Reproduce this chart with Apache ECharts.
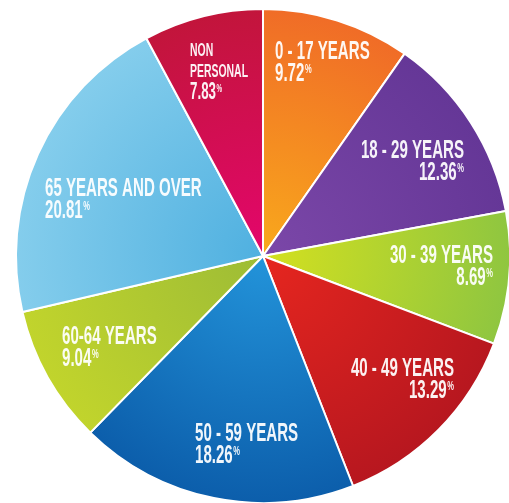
<!DOCTYPE html>
<html>
<head>
<meta charset="utf-8">
<style>
  html, body { margin: 0; padding: 0; background: #ffffff; }
  #chart { width: 509px; height: 503px; }
</style>
<script src="https://cdn.jsdelivr.net/npm/echarts@6/dist/echarts.min.js"></script>
</head>
<body>
<div id="chart"></div>
<script>
// Age groups, clockwise from 12 o'clock
const categories = ['0 - 17 YEARS', '18 - 29 YEARS', '30 - 39 YEARS', '40 - 49 YEARS',
  '50 - 59 YEARS', '60-64 YEARS', '65 YEARS AND OVER', 'NON\nPERSONAL'];
// Share of the total, in percent
const shares = [9.72, 12.36, 8.69, 13.29, 18.26, 9.04, 20.81, 7.83];

// Slice colours: [near the centre, at the rim]
const sliceColors = [
  ['#f9a91c', '#f06c27'],
  ['#7b47a8', '#653797'],
  ['#d4e01f', '#8fc640'],
  ['#e6261f', '#b7171f'],
  ['#2394da', '#0c5eab'],
  ['#9dbc36', '#c1d42c'],
  ['#4fb0e0', '#84cdec'],
  ['#e4066c', '#c2153b']
];

// Label anchor per slice: x, y (top of the text block), horizontal alignment
const labelSpots = [
  [275, 41, 'left'],
  [464, 140, 'right'],
  [493, 245, 'right'],
  [454, 358, 'right'],
  [195, 423, 'left'],
  [62, 326, 'left'],
  [45, 178, 'left'],
  [190, 41, 'left']
];

const CX = 263, CY = 256, R = 247;

const font = '"Liberation Sans", Arial, sans-serif';
const textColor = 'rgba(255,255,255,0.94)';
// horizontal squeeze giving the tall, narrow poster lettering
const SQUEEZE = 0.58;

const chart = echarts.init(document.getElementById('chart'), null, { renderer: 'canvas' });

const data = categories.map((name, i) => ({
  name: name,
  value: shares[i],
  itemStyle: {
    color: {
      type: 'radial', x: CX, y: CY, r: R, global: true,
      colorStops: [
        { offset: 0, color: sliceColors[i][0] },
        { offset: 1, color: sliceColors[i][1] }
      ]
    }
  }
}));

const richStyles = {
  t: { font: 'bold 26px ' + font, lineHeight: 22, fill: textColor },
  v: { font: 'bold 26px ' + font, lineHeight: 22, fill: textColor },
  p: { font: 'bold 13px ' + font, lineHeight: 22, fill: textColor, padding: [0, 0, 9, 1] },
  ts: { font: 'bold 18px ' + font, lineHeight: 21, fill: textColor },
  vs: { font: 'bold 23px ' + font, lineHeight: 20, fill: textColor },
  ps: { font: 'bold 11px ' + font, lineHeight: 20, fill: textColor, padding: [0, 0, 8, 1] }
};

// Slice captions: name lines followed by the share
const captions = categories.map((name, i) => {
  const s = name.indexOf('\n') >= 0 ? 's' : '';
  const lines = name.split('\n').map(l => '{t' + s + '|' + l + '}');
  const text = lines.join('\n') + '\n{v' + s + '|' + shares[i].toFixed(2) + '}{p' + s + '|%}';
  const spot = labelSpots[i];
  return {
    type: 'text',
    x: spot[0],
    y: spot[1],
    scaleX: SQUEEZE,
    silent: true,
    z: 10,
    style: {
      text: text,
      align: spot[2],
      verticalAlign: 'top',
      fill: textColor,
      font: 'bold 26px ' + font,
      rich: richStyles
    }
  };
});

chart.setOption({
  backgroundColor: '#ffffff',
  animation: false,
  graphic: { elements: captions },
  series: [{
    type: 'pie',
    center: [CX, CY],
    radius: [0, R],
    startAngle: 90,
    clockwise: true,
    avoidLabelOverlap: false,
    itemStyle: { borderColor: '#ffffff', borderWidth: 2 },
    emphasis: { disabled: true },
    label: { show: false },
    labelLine: { show: false },
    data: data
  }]
});
</script>
</body>
</html>
